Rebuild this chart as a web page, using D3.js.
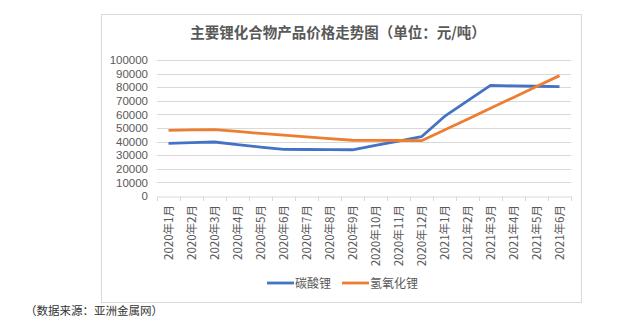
<!DOCTYPE html>
<html><head><meta charset="utf-8">
<script src="https://cdn.jsdelivr.net/npm/d3@7"></script>
<style>body{margin:0;background:#fff;}svg{display:block;font-family:"Noto Sans CJK SC","Noto Sans",sans-serif;}</style>
</head><body>
<svg id="c" width="638" height="326"></svg>
<script>
const categories = ["2020年1月","2020年2月","2020年3月","2020年4月","2020年5月","2020年6月","2020年7月","2020年8月","2020年9月","2020年10月","2020年11月","2020年12月","2021年1月","2021年2月","2021年3月","2021年4月","2021年5月","2021年6月"];
const lithiumCarbonate = [38700,39200,39700,37800,36000,34300,34200,34100,34000,37200,40400,43600,58500,70000,81300,81000,80700,80400];
const lithiumHydroxide = [48300,48600,48800,47500,46000,44800,43500,42200,41000,40900,40800,40700,48500,56500,64500,72500,80500,88500];
const yTicks = [0,10000,20000,30000,40000,50000,60000,70000,80000,90000,100000];
const seriesNames = ["碳酸锂","氢氧化锂"];
const colors = ["#4472C4","#ED7D31"];
const title = "主要锂化合物产品价格走势图（单位：元/吨）";
const source = "（数据来源：亚洲金属网）";

const svg = d3.select("#c");
// frame
svg.append("rect").attr("x",101.5).attr("y",14.5).attr("width",480).attr("height",288)
  .attr("fill","#fff").attr("stroke","#d9d9d9").attr("stroke-width",1);

const x = d3.scaleBand().domain(categories).range([157,571]);
const y = d3.scaleLinear().domain([0,100000]).range([196,60]);

svg.append("text").attr("x",338).attr("y",38).attr("text-anchor","middle")
  .attr("font-size",14.5).attr("font-weight","bold").attr("fill","#595959").text(title);

// grid
svg.append("g").selectAll("line").data(yTicks.filter(d=>d>0)).join("line")
  .attr("x1",157).attr("x2",571).attr("y1",d=>Math.round(y(d))+0.5).attr("y2",d=>Math.round(y(d))+0.5)
  .attr("stroke","#d9d9d9").attr("stroke-width",1);

// y axis labels
const ya = svg.append("g").attr("transform","translate(157,0)")
  .call(d3.axisLeft(y).tickValues(yTicks).tickSize(0).tickPadding(9).tickFormat(d=>String(d)));
ya.select(".domain").remove();
ya.selectAll("text").attr("font-size",11.5).attr("fill","#595959").attr("font-family","'Liberation Sans',Arial,sans-serif");

// x axis
const xa = svg.append("g").attr("transform","translate(0,196.5)")
  .call(d3.axisBottom(x).tickSize(0).tickPadding(0));
xa.select(".domain").attr("stroke","#d9d9d9");
xa.selectAll("text").remove();
// tick marks at category boundaries
const bounds = categories.map(c=>x(c)).concat([x(categories[categories.length-1])+x.bandwidth()]);
svg.append("g").selectAll("line").data(bounds).join("line")
  .attr("x1",d=>Math.round(d)+0.5).attr("x2",d=>Math.round(d)+0.5).attr("y1",196.5).attr("y2",201)
  .attr("stroke","#d9d9d9");
svg.append("g").selectAll("text").data(categories).join("text")
  .attr("transform",d=>`translate(${x(d)+x.bandwidth()/2+4},205) rotate(-90)`)
  .attr("text-anchor","end").attr("font-size",11.5).attr("fill","#595959").text(d=>d);

// lines
const line = d3.line().x((d,i)=>x(categories[i])+x.bandwidth()/2).y(d=>y(d));
[lithiumCarbonate,lithiumHydroxide].forEach((s,k)=>{
  svg.append("path").datum(s).attr("d",line).attr("fill","none")
    .attr("stroke",colors[k]).attr("stroke-width",2.8).attr("stroke-linejoin","round");
});

// legend
const lg = [{x:267,t:295},{x:342,t:370}];
seriesNames.forEach((n,k)=>{
  svg.append("line").attr("x1",lg[k].x).attr("x2",lg[k].x+27).attr("y1",283).attr("y2",283)
    .attr("stroke",colors[k]).attr("stroke-width",2.8);
  svg.append("text").attr("x",lg[k].t).attr("y",287.5).attr("font-size",12).attr("fill","#595959").text(n);
});

svg.append("text").attr("x",25).attr("y",315).attr("font-size",11.5).attr("fill","#333").text(source);
</script>
</body></html>
